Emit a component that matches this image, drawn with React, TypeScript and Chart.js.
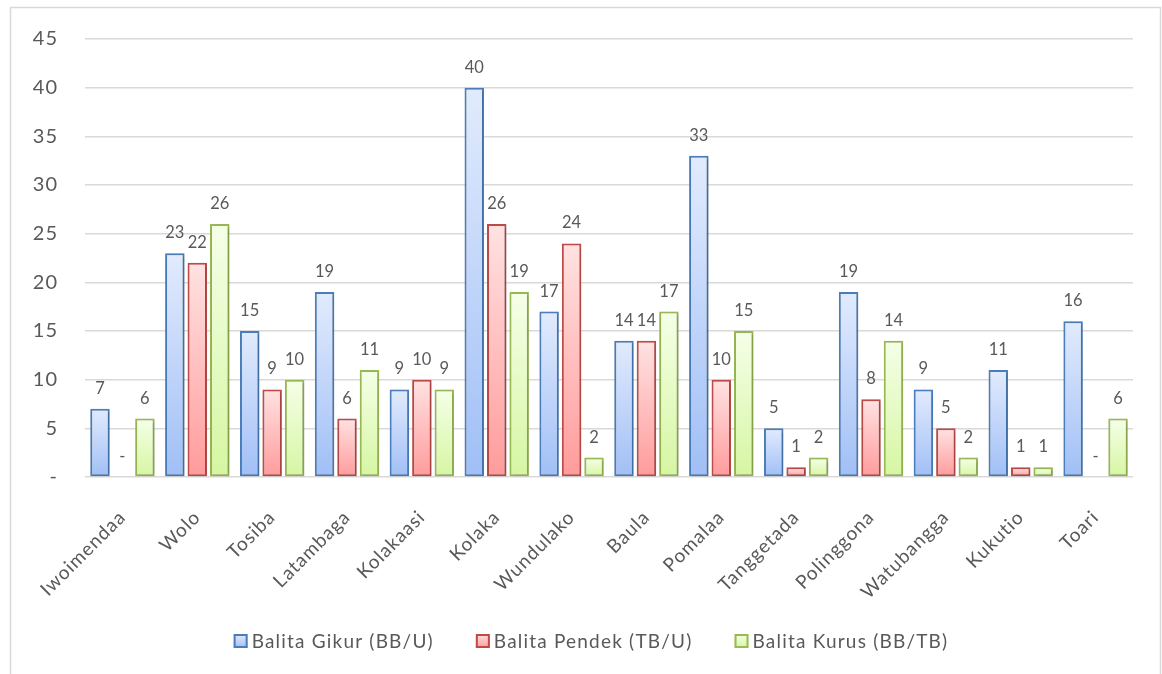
import React, { useEffect, useRef } from "react";
import { Chart, registerables } from "chart.js";

Chart.register(...registerables);

// Village names along the x axis
const categories = [
  "Iwoimendaa",
  "Wolo",
  "Tosiba",
  "Latambaga",
  "Kolakaasi",
  "Kolaka",
  "Wundulako",
  "Baula",
  "Pomalaa",
  "Tanggetada",
  "Polinggona",
  "Watubangga",
  "Kukutio",
  "Toari",
];

// Counts per village for each indicator
const giziKurang = [7, 23, 15, 19, 9, 40, 17, 14, 33, 5, 19, 9, 11, 16];
const pendek = [0, 22, 9, 6, 10, 26, 24, 14, 10, 1, 8, 5, 1, 0];
const kurus = [6, 26, 10, 11, 9, 19, 2, 17, 15, 2, 14, 2, 1, 6];

const seriesNames = [
  "Balita Gikur (BB/U)",
  "Balita Pendek (TB/U)",
  "Balita Kurus (BB/TB)",
];

// Value axis range
const yMin = 0;
const yMax = 45;
const yStep = 5;

const borderColors = ["#4a7ebb", "#be4b48", "#98b954"];
const gradTop = ["#e2ebfd", "#ffe2e2", "#f5ffe8"];
const gradBottom = ["#a0bff6", "#ff9b9b", "#d6f6a2"];

const TEXT = "#595959";
const GRID = "#d9d9d9";
const FONT = "Lato, 'Open Sans', sans-serif";

// Vertical gradient spanning each bar, from its top down to the baseline
const barFill = (i: number) => (c: any) => {
  const chart = c.chart;
  const y = chart.scales && chart.scales.y;
  if (!y || c.type !== "data" || !c.parsed) return gradBottom[i];
  const top = y.getPixelForValue(c.parsed.y);
  const base = y.getPixelForValue(0);
  if (!isFinite(top) || !isFinite(base) || Math.abs(base - top) < 1) return gradBottom[i];
  const g = chart.ctx.createLinearGradient(0, top, 0, base);
  g.addColorStop(0, gradTop[i]);
  g.addColorStop(1, gradBottom[i]);
  return g;
};

// Outer frame around the whole chart; slightly spaced axis lettering
const framePlugin = {
  id: "frame",
  beforeDraw(chart: any) {
    const ctx = chart.ctx;
    ctx.save();
    ctx.fillStyle = "#ffffff";
    ctx.fillRect(0, 0, chart.width, chart.height);
    ctx.strokeStyle = GRID;
    ctx.lineWidth = 1.5;
    ctx.strokeRect(10.5, 7.5, 1150, 720);
    ctx.restore();
    (ctx as any).letterSpacing = "1px";
  },
};

// Soft drop shadow under the bars, then value labels above each bar
const barDecor = {
  id: "barDecor",
  beforeDatasetsDraw(chart: any) {
    const ctx = chart.ctx;
    (ctx as any).letterSpacing = "0px";
    ctx.save();
    ctx.shadowColor = "rgba(0,0,0,0.22)";
    ctx.shadowBlur = 3;
    ctx.shadowOffsetX = 1.2;
    ctx.shadowOffsetY = 1.2;
  },
  afterDatasetsDraw(chart: any) {
    const ctx = chart.ctx;
    ctx.restore();
    ctx.save();
    ctx.fillStyle = TEXT;
    ctx.font = `16.5px ${FONT}`;
    ctx.textAlign = "center";
    ctx.textBaseline = "alphabetic";
    chart.data.datasets.forEach((ds: any, i: number) => {
      const meta = chart.getDatasetMeta(i);
      meta.data.forEach((el: any, j: number) => {
        const v = ds.data[j];
        ctx.fillText(v === 0 ? "-" : String(v), el.x, el.y - 15);
      });
    });
    ctx.restore();
  },
};

// Legend row beneath the axis labels
const legendPlugin = {
  id: "legendRow",
  afterDraw(chart: any) {
    const ctx = chart.ctx;
    ctx.save();
    ctx.font = `19px ${FONT}`;
    (ctx as any).letterSpacing = "1.2px";
    const box = 14;
    const gap = 4;
    const itemGap = 42;
    const widths = chart.data.datasets.map((d: any) => ctx.measureText(d.label).width);
    const total =
      widths.reduce((a: number, w: number) => a + box + gap + w, 0) + itemGap * (widths.length - 1);
    let x = 591 - total / 2;
    const cy = 641;
    chart.data.datasets.forEach((d: any, i: number) => {
      const g = ctx.createLinearGradient(0, cy - box / 2, 0, cy + box / 2);
      g.addColorStop(0, gradTop[i]);
      g.addColorStop(1, gradBottom[i]);
      ctx.fillStyle = g;
      ctx.fillRect(x, cy - box / 2, box, box);
      ctx.strokeStyle = borderColors[i];
      ctx.lineWidth = 2;
      ctx.strokeRect(x + 1, cy - box / 2 + 1, box - 2, box - 2);
      ctx.fillStyle = TEXT;
      ctx.textAlign = "left";
      ctx.textBaseline = "middle";
      ctx.fillText(d.label, x + box + gap, cy + 1);
      x += box + gap + widths[i] + itemGap;
    });
    ctx.restore();
  },
};

const seriesData = [giziKurang, pendek, kurus];

export default function App() {
  const ref = useRef<HTMLCanvasElement>(null);

  useEffect(() => {
    if (!ref.current) return;
    const chart = new Chart(ref.current, {
      type: "bar",
      data: {
        labels: categories,
        datasets: seriesData.map((d, i) => ({
          label: seriesNames[i],
          data: d,
          backgroundColor: barFill(i),
          borderColor: borderColors[i],
          borderWidth: (c: any) => (c.raw === 0 ? 0 : 2),
          borderSkipped: false,
          categoryPercentage: 0.9,
          barPercentage: 0.866,
        })),
      },
      options: {
        responsive: false,
        devicePixelRatio: 1,
        animation: false,
        events: [],
        layout: { padding: { top: 35, left: 10, right: 29, bottom: 0 } },
        plugins: {
          legend: { display: false },
          tooltip: { enabled: false },
          title: { display: false },
        },
        scales: {
          x: {
            grid: { display: false },
            border: { display: false },
            ticks: {
              color: TEXT,
              font: { family: FONT, size: 19 },
              minRotation: 45,
              maxRotation: 45,
              autoSkip: false,
              padding: 21,
            },
            afterFit(scale: any) {
              scale.height = 197;
            },
          },
          y: {
            min: yMin,
            max: yMax,
            grid: { color: GRID, lineWidth: 1.5, drawTicks: false },
            border: { display: false },
            ticks: {
              stepSize: yStep,
              color: TEXT,
              font: { family: FONT, size: 20 },
              padding: 27,
              callback: (v: any) => (Number(v) === 0 ? "-" : String(v)),
            },
            afterFit(scale: any) {
              scale.width = 75;
            },
          },
        },
      },
      plugins: [framePlugin, barDecor, legendPlugin],
    });
    return () => chart.destroy();
  }, []);

  return (
    <div
      style={{
        position: "fixed",
        left: 0,
        top: 0,
        width: 1162,
        height: 674,
        background: "#ffffff",
      }}
    >
      <canvas
        ref={ref}
        width={1162}
        height={674}
        style={{ display: "block", width: 1162, height: 674 }}
      />
    </div>
  );
}
